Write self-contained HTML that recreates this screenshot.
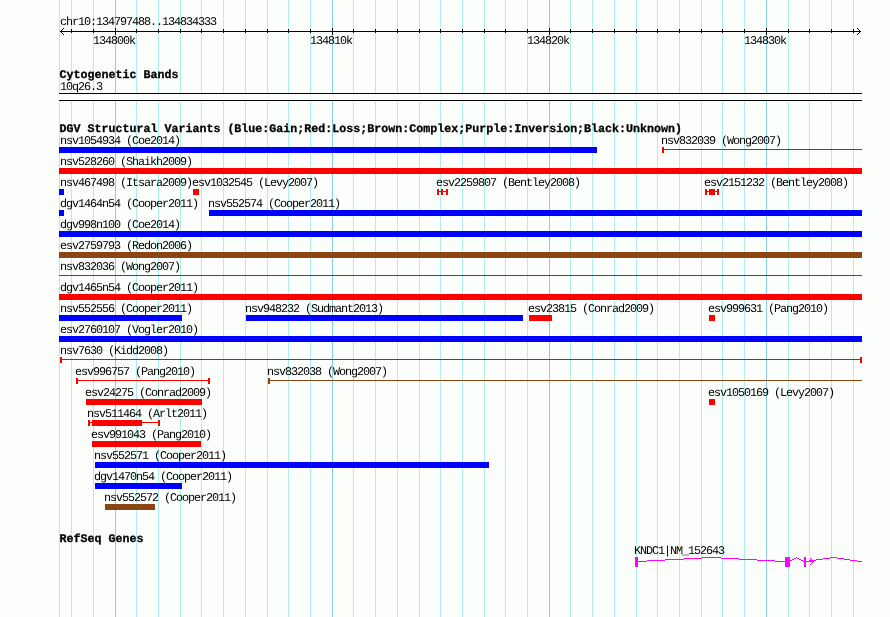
<!DOCTYPE html><html><head><meta charset="utf-8"><style>
html,body{margin:0;padding:0;}
body{width:890px;height:617px;position:relative;overflow:hidden;background:#FBFEFB;}
#wrap{position:absolute;left:0;top:0;width:890px;height:617px;will-change:transform;}
i{position:absolute;display:block;}
b{position:absolute;white-space:pre;font-weight:normal;color:#000;}
b.s{font-family:"Liberation Mono",monospace;font-size:11.8px;line-height:13px;letter-spacing:-1.08px;text-rendering:geometricPrecision;}
b.bd{font-family:"Liberation Mono",monospace;font-size:11.67px;line-height:13px;font-weight:bold;text-rendering:geometricPrecision;-webkit-text-stroke:0.3px #000;}
</style></head><body><div id="wrap"><i style="left:71px;top:0px;width:1px;height:617px;background:#AFEEEE"></i><i style="left:93px;top:0px;width:1px;height:617px;background:#AFEEEE"></i><i style="left:115px;top:0px;width:1px;height:617px;background:#87CEEB"></i><i style="left:136px;top:0px;width:1px;height:617px;background:#AFEEEE"></i><i style="left:158px;top:0px;width:1px;height:617px;background:#AFEEEE"></i><i style="left:180px;top:0px;width:1px;height:617px;background:#AFEEEE"></i><i style="left:201px;top:0px;width:1px;height:617px;background:#AFEEEE"></i><i style="left:223px;top:0px;width:1px;height:617px;background:#AFEEEE"></i><i style="left:245px;top:0px;width:1px;height:617px;background:#AFEEEE"></i><i style="left:267px;top:0px;width:1px;height:617px;background:#AFEEEE"></i><i style="left:288px;top:0px;width:1px;height:617px;background:#AFEEEE"></i><i style="left:310px;top:0px;width:1px;height:617px;background:#AFEEEE"></i><i style="left:332px;top:0px;width:1px;height:617px;background:#87CEEB"></i><i style="left:353px;top:0px;width:1px;height:617px;background:#AFEEEE"></i><i style="left:375px;top:0px;width:1px;height:617px;background:#AFEEEE"></i><i style="left:397px;top:0px;width:1px;height:617px;background:#AFEEEE"></i><i style="left:419px;top:0px;width:1px;height:617px;background:#AFEEEE"></i><i style="left:440px;top:0px;width:1px;height:617px;background:#AFEEEE"></i><i style="left:462px;top:0px;width:1px;height:617px;background:#AFEEEE"></i><i style="left:484px;top:0px;width:1px;height:617px;background:#AFEEEE"></i><i style="left:505px;top:0px;width:1px;height:617px;background:#AFEEEE"></i><i style="left:527px;top:0px;width:1px;height:617px;background:#AFEEEE"></i><i style="left:549px;top:0px;width:1px;height:617px;background:#87CEEB"></i><i style="left:570px;top:0px;width:1px;height:617px;background:#AFEEEE"></i><i style="left:592px;top:0px;width:1px;height:617px;background:#AFEEEE"></i><i style="left:614px;top:0px;width:1px;height:617px;background:#AFEEEE"></i><i style="left:636px;top:0px;width:1px;height:617px;background:#AFEEEE"></i><i style="left:657px;top:0px;width:1px;height:617px;background:#AFEEEE"></i><i style="left:679px;top:0px;width:1px;height:617px;background:#AFEEEE"></i><i style="left:701px;top:0px;width:1px;height:617px;background:#AFEEEE"></i><i style="left:722px;top:0px;width:1px;height:617px;background:#AFEEEE"></i><i style="left:744px;top:0px;width:1px;height:617px;background:#AFEEEE"></i><i style="left:766px;top:0px;width:1px;height:617px;background:#87CEEB"></i><i style="left:788px;top:0px;width:1px;height:617px;background:#AFEEEE"></i><i style="left:809px;top:0px;width:1px;height:617px;background:#AFEEEE"></i><i style="left:831px;top:0px;width:1px;height:617px;background:#AFEEEE"></i><i style="left:853px;top:0px;width:1px;height:617px;background:#AFEEEE"></i><i style="left:59px;top:0px;width:1px;height:617px;background:#AFEEEE"></i><b class="s" style="left:60px;top:16px">chr10:134797488..134834333</b><i style="left:60px;top:31px;width:801px;height:1px;background:#000"></i><i style="left:61px;top:30px;width:1px;height:1px;background:#000"></i><i style="left:61px;top:32px;width:1px;height:1px;background:#000"></i><i style="left:859px;top:30px;width:1px;height:1px;background:#000"></i><i style="left:859px;top:32px;width:1px;height:1px;background:#000"></i><i style="left:62px;top:29px;width:1px;height:1px;background:#000"></i><i style="left:62px;top:33px;width:1px;height:1px;background:#000"></i><i style="left:858px;top:29px;width:1px;height:1px;background:#000"></i><i style="left:858px;top:33px;width:1px;height:1px;background:#000"></i><i style="left:63px;top:28px;width:1px;height:1px;background:#000"></i><i style="left:63px;top:34px;width:1px;height:1px;background:#000"></i><i style="left:857px;top:28px;width:1px;height:1px;background:#000"></i><i style="left:857px;top:34px;width:1px;height:1px;background:#000"></i><i style="left:71px;top:29px;width:1px;height:4px;background:#000"></i><i style="left:93px;top:29px;width:1px;height:4px;background:#000"></i><i style="left:115px;top:28px;width:1px;height:7px;background:#000"></i><b class="s" style="left:93px;top:35px">134800k</b><i style="left:136px;top:29px;width:1px;height:4px;background:#000"></i><i style="left:158px;top:29px;width:1px;height:4px;background:#000"></i><i style="left:180px;top:29px;width:1px;height:4px;background:#000"></i><i style="left:201px;top:29px;width:1px;height:4px;background:#000"></i><i style="left:223px;top:29px;width:1px;height:4px;background:#000"></i><i style="left:245px;top:29px;width:1px;height:4px;background:#000"></i><i style="left:267px;top:29px;width:1px;height:4px;background:#000"></i><i style="left:288px;top:29px;width:1px;height:4px;background:#000"></i><i style="left:310px;top:29px;width:1px;height:4px;background:#000"></i><i style="left:332px;top:28px;width:1px;height:7px;background:#000"></i><b class="s" style="left:310px;top:35px">134810k</b><i style="left:353px;top:29px;width:1px;height:4px;background:#000"></i><i style="left:375px;top:29px;width:1px;height:4px;background:#000"></i><i style="left:397px;top:29px;width:1px;height:4px;background:#000"></i><i style="left:419px;top:29px;width:1px;height:4px;background:#000"></i><i style="left:440px;top:29px;width:1px;height:4px;background:#000"></i><i style="left:462px;top:29px;width:1px;height:4px;background:#000"></i><i style="left:484px;top:29px;width:1px;height:4px;background:#000"></i><i style="left:505px;top:29px;width:1px;height:4px;background:#000"></i><i style="left:527px;top:29px;width:1px;height:4px;background:#000"></i><i style="left:549px;top:28px;width:1px;height:7px;background:#000"></i><b class="s" style="left:527px;top:35px">134820k</b><i style="left:570px;top:29px;width:1px;height:4px;background:#000"></i><i style="left:592px;top:29px;width:1px;height:4px;background:#000"></i><i style="left:614px;top:29px;width:1px;height:4px;background:#000"></i><i style="left:636px;top:29px;width:1px;height:4px;background:#000"></i><i style="left:657px;top:29px;width:1px;height:4px;background:#000"></i><i style="left:679px;top:29px;width:1px;height:4px;background:#000"></i><i style="left:701px;top:29px;width:1px;height:4px;background:#000"></i><i style="left:722px;top:29px;width:1px;height:4px;background:#000"></i><i style="left:744px;top:29px;width:1px;height:4px;background:#000"></i><i style="left:766px;top:28px;width:1px;height:7px;background:#000"></i><b class="s" style="left:744px;top:35px">134830k</b><i style="left:788px;top:29px;width:1px;height:4px;background:#000"></i><i style="left:809px;top:29px;width:1px;height:4px;background:#000"></i><i style="left:831px;top:29px;width:1px;height:4px;background:#000"></i><i style="left:853px;top:29px;width:1px;height:4px;background:#000"></i><b class="bd" style="left:59.5px;top:69px">Cytogenetic Bands</b><b class="s" style="left:60px;top:81px">10q26.3</b><i style="left:59px;top:93px;width:803px;height:8px;background:#FBFEFB"></i><i style="left:59px;top:93px;width:803px;height:1px;background:#000"></i><i style="left:59px;top:100px;width:803px;height:1px;background:#000"></i><b class="bd" style="left:59.5px;top:123px">DGV Structural Variants (Blue:Gain;Red:Loss;Brown:Complex;Purple:Inversion;Black:Unknown)</b><b class="s" style="left:60px;top:135px">nsv1054934 (Coe2014)</b><i style="left:59px;top:147px;width:538px;height:6px;background:#0000FF"></i><b class="s" style="left:661px;top:135px">nsv832039 (Wong2007)</b><i style="left:662px;top:149px;width:200px;height:1px;background:#FF0000"></i><i style="left:662px;top:147px;width:2px;height:6px;background:#FF0000"></i><b class="s" style="left:60px;top:156px">nsv528260 (Shaikh2009)</b><i style="left:59px;top:168px;width:803px;height:6px;background:#FF0000"></i><b class="s" style="left:60px;top:177px">nsv467498 (Itsara2009)</b><i style="left:59px;top:189px;width:5px;height:6px;background:#0000FF"></i><b class="s" style="left:192px;top:177px">esv1032545 (Levy2007)</b><i style="left:193px;top:189px;width:6px;height:6px;background:#FF0000"></i><b class="s" style="left:436px;top:177px">esv2259807 (Bentley2008)</b><i style="left:437px;top:191px;width:11px;height:1px;background:#FF0000"></i><i style="left:437px;top:189px;width:2px;height:6px;background:#FF0000"></i><i style="left:441px;top:189px;width:2px;height:6px;background:#FF0000"></i><i style="left:446px;top:189px;width:2px;height:6px;background:#FF0000"></i><b class="s" style="left:704px;top:177px">esv2151232 (Bentley2008)</b><i style="left:705px;top:191px;width:14px;height:1px;background:#FF0000"></i><i style="left:705px;top:189px;width:2px;height:6px;background:#FF0000"></i><i style="left:709px;top:189px;width:6px;height:6px;background:#FF0000"></i><i style="left:717px;top:189px;width:2px;height:6px;background:#FF0000"></i><b class="s" style="left:60px;top:198px">dgv1464n54 (Cooper2011)</b><i style="left:59px;top:210px;width:5px;height:6px;background:#0000FF"></i><b class="s" style="left:208px;top:198px">nsv552574 (Cooper2011)</b><i style="left:209px;top:210px;width:653px;height:6px;background:#0000FF"></i><b class="s" style="left:60px;top:219px">dgv998n100 (Coe2014)</b><i style="left:59px;top:231px;width:803px;height:6px;background:#0000FF"></i><b class="s" style="left:60px;top:240px">esv2759793 (Redon2006)</b><i style="left:59px;top:252px;width:803px;height:6px;background:#8B4513"></i><b class="s" style="left:60px;top:261px">nsv832036 (Wong2007)</b><i style="left:59px;top:275px;width:803px;height:1px;background:#FF0000"></i><b class="s" style="left:60px;top:282px">dgv1465n54 (Cooper2011)</b><i style="left:59px;top:294px;width:803px;height:6px;background:#FF0000"></i><b class="s" style="left:60px;top:303px">nsv552556 (Cooper2011)</b><i style="left:59px;top:315px;width:123px;height:6px;background:#0000FF"></i><b class="s" style="left:245px;top:303px">nsv948232 (Sudmant2013)</b><i style="left:246px;top:315px;width:277px;height:6px;background:#0000FF"></i><b class="s" style="left:528px;top:303px">esv23815 (Conrad2009)</b><i style="left:529px;top:315px;width:23px;height:6px;background:#FF0000"></i><b class="s" style="left:708px;top:303px">esv999631 (Pang2010)</b><i style="left:709px;top:315px;width:6px;height:6px;background:#FF0000"></i><b class="s" style="left:60px;top:324px">esv2760107 (Vogler2010)</b><i style="left:59px;top:336px;width:803px;height:6px;background:#0000FF"></i><b class="s" style="left:60px;top:345px">nsv7630 (Kidd2008)</b><i style="left:60px;top:359px;width:802px;height:1px;background:#FF0000"></i><i style="left:60px;top:357px;width:2px;height:6px;background:#FF0000"></i><i style="left:860px;top:357px;width:2px;height:6px;background:#FF0000"></i><b class="s" style="left:75px;top:366px">esv996757 (Pang2010)</b><i style="left:76px;top:380px;width:134px;height:1px;background:#FF0000"></i><i style="left:76px;top:378px;width:2px;height:6px;background:#FF0000"></i><i style="left:208px;top:378px;width:2px;height:6px;background:#FF0000"></i><b class="s" style="left:267px;top:366px">nsv832038 (Wong2007)</b><i style="left:268px;top:380px;width:594px;height:1px;background:#8B4513"></i><i style="left:268px;top:378px;width:2px;height:6px;background:#8B4513"></i><b class="s" style="left:85px;top:387px">esv24275 (Conrad2009)</b><i style="left:86px;top:399px;width:116px;height:6px;background:#FF0000"></i><b class="s" style="left:708px;top:387px">esv1050169 (Levy2007)</b><i style="left:709px;top:399px;width:6px;height:6px;background:#FF0000"></i><b class="s" style="left:87px;top:408px">nsv511464 (Arlt2011)</b><i style="left:88px;top:422px;width:72px;height:1px;background:#FF0000"></i><i style="left:88px;top:420px;width:2px;height:6px;background:#FF0000"></i><i style="left:158px;top:420px;width:2px;height:6px;background:#FF0000"></i><i style="left:92px;top:420px;width:50px;height:6px;background:#FF0000"></i><b class="s" style="left:91px;top:429px">esv991043 (Pang2010)</b><i style="left:92px;top:441px;width:109px;height:6px;background:#FF0000"></i><b class="s" style="left:94px;top:450px">nsv552571 (Cooper2011)</b><i style="left:95px;top:462px;width:394px;height:6px;background:#0000FF"></i><b class="s" style="left:94px;top:471px">dgv1470n54 (Cooper2011)</b><i style="left:95px;top:483px;width:87px;height:6px;background:#0000FF"></i><b class="s" style="left:104px;top:492px">nsv552572 (Cooper2011)</b><i style="left:105px;top:504px;width:50px;height:6px;background:#8B4513"></i><b class="bd" style="left:59.5px;top:533px">RefSeq Genes</b><b class="s" style="left:634px;top:545px">KNDC1|NM_152643</b><i style="left:635px;top:557px;width:3px;height:10px;background:#FF00FF"></i><i style="left:638px;top:561px;width:9px;height:1px;background:#FF00FF"></i><i style="left:647px;top:560px;width:18px;height:1px;background:#FF00FF"></i><i style="left:665px;top:559px;width:19px;height:1px;background:#FF00FF"></i><i style="left:684px;top:558px;width:18px;height:1px;background:#FF00FF"></i><i style="left:702px;top:557px;width:19px;height:1px;background:#FF00FF"></i><i style="left:721px;top:558px;width:18px;height:1px;background:#FF00FF"></i><i style="left:739px;top:559px;width:18px;height:1px;background:#FF00FF"></i><i style="left:757px;top:560px;width:18px;height:1px;background:#FF00FF"></i><i style="left:775px;top:561px;width:10px;height:1px;background:#FF00FF"></i><i style="left:785px;top:557px;width:5px;height:10px;background:#FF00FF"></i><i style="left:790px;top:560px;width:1px;height:1px;background:#FF00FF"></i><i style="left:791px;top:560px;width:1px;height:1px;background:#FF00FF"></i><i style="left:792px;top:559px;width:1px;height:1px;background:#FF00FF"></i><i style="left:793px;top:559px;width:1px;height:1px;background:#FF00FF"></i><i style="left:794px;top:558px;width:1px;height:1px;background:#FF00FF"></i><i style="left:795px;top:558px;width:1px;height:1px;background:#FF00FF"></i><i style="left:796px;top:557px;width:1px;height:1px;background:#FF00FF"></i><i style="left:797px;top:558px;width:1px;height:1px;background:#FF00FF"></i><i style="left:798px;top:558px;width:1px;height:1px;background:#FF00FF"></i><i style="left:799px;top:559px;width:1px;height:1px;background:#FF00FF"></i><i style="left:800px;top:559px;width:1px;height:1px;background:#FF00FF"></i><i style="left:801px;top:560px;width:1px;height:1px;background:#FF00FF"></i><i style="left:802px;top:560px;width:1px;height:1px;background:#FF00FF"></i><i style="left:803px;top:561px;width:1px;height:1px;background:#FF00FF"></i><i style="left:804px;top:557px;width:2px;height:10px;background:#FF00FF"></i><i style="left:806px;top:561px;width:8px;height:1px;background:#FF00FF"></i><i style="left:809px;top:560px;width:4px;height:1px;background:#FF00FF"></i><i style="left:810px;top:558px;width:1px;height:1px;background:#FF00FF"></i><i style="left:811px;top:559px;width:1px;height:1px;background:#FF00FF"></i><i style="left:812px;top:560px;width:1px;height:1px;background:#FF00FF"></i><i style="left:812px;top:562px;width:1px;height:1px;background:#FF00FF"></i><i style="left:811px;top:563px;width:1px;height:1px;background:#FF00FF"></i><i style="left:810px;top:564px;width:1px;height:1px;background:#FF00FF"></i><i style="left:813px;top:560px;width:3px;height:1px;background:#FF00FF"></i><i style="left:816px;top:559px;width:7px;height:1px;background:#FF00FF"></i><i style="left:823px;top:558px;width:7px;height:1px;background:#FF00FF"></i><i style="left:830px;top:557px;width:7px;height:1px;background:#FF00FF"></i><i style="left:837px;top:558px;width:7px;height:1px;background:#FF00FF"></i><i style="left:844px;top:559px;width:6px;height:1px;background:#FF00FF"></i><i style="left:850px;top:560px;width:7px;height:1px;background:#FF00FF"></i><i style="left:857px;top:561px;width:5px;height:1px;background:#FF00FF"></i></div></body></html>
